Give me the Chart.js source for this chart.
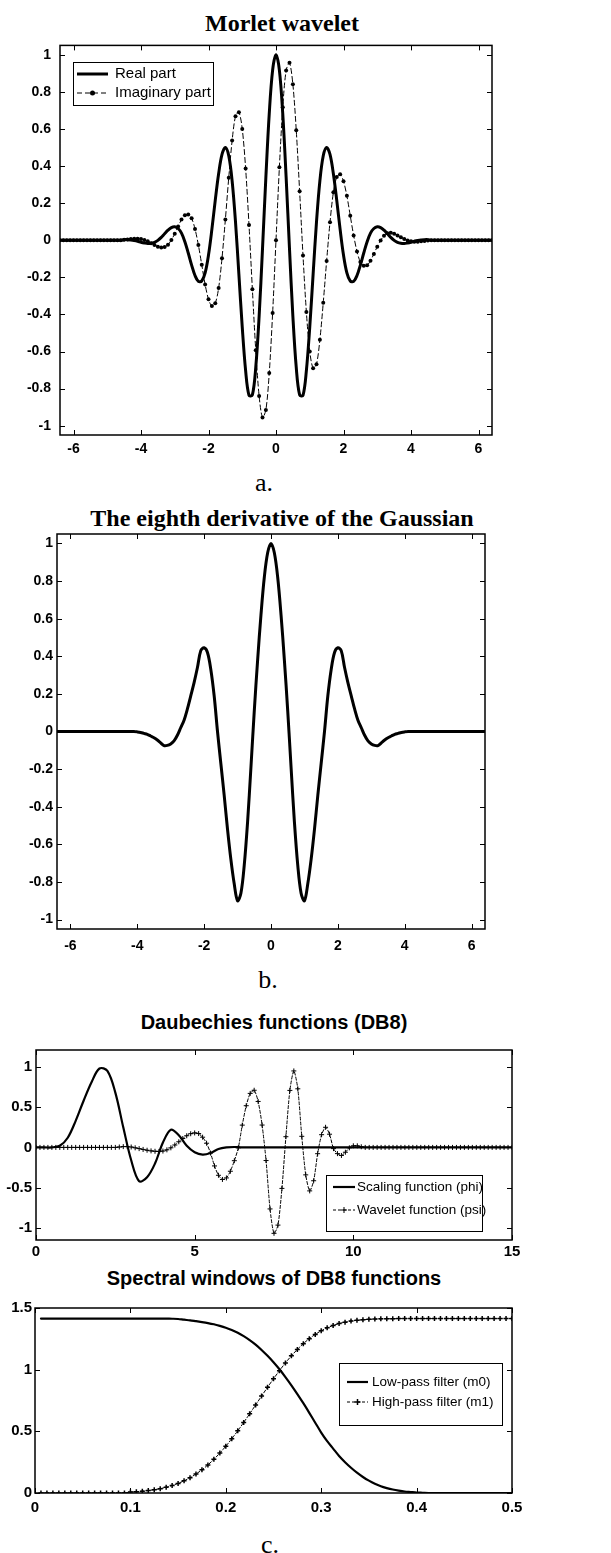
<!DOCTYPE html>
<html>
<head>
<meta charset="utf-8">
<script src="https://cdn.jsdelivr.net/npm/chart.js@4.4.1/dist/chart.umd.min.js"></script>
<style>
  html, body { margin: 0; padding: 0; background: #fff; }
  #page { position: relative; width: 611px; height: 1553px; overflow: hidden; }
  canvas { position: absolute; left: 0; }
  .lbl { position: absolute; transform: translate(-50%, -50%); white-space: nowrap; color: #000; line-height: 1; }
  .serif { font-family: "Liberation Serif", "Times New Roman", serif; }
  .sans { font-family: "Liberation Sans", Arial, sans-serif; font-weight: bold; }
</style>
</head>
<body>
<div id="page">
  <div class="lbl serif" style="left:282px; top:23px; font-size:24px; font-weight:bold;">Morlet wavelet</div>
  <canvas id="morlet" width="611" height="440" style="top:28px;"></canvas>
  <div class="lbl serif" style="left:264px; top:483px; font-size:26px;">a.</div>

  <div class="lbl serif" style="left:282px; top:518px; font-size:24px; font-weight:bold;">The eighth derivative of the Gaussian</div>
  <canvas id="gauss" width="611" height="440" style="top:520px;"></canvas>
  <div class="lbl serif" style="left:268px; top:980px; font-size:26px;">b.</div>

  <div class="lbl sans" style="left:274px; top:1022px; font-size:20px;">Daubechies functions (DB8)</div>
  <canvas id="db8" width="611" height="230" style="top:1035px;"></canvas>

  <div class="lbl sans" style="left:274px; top:1278px; font-size:20px;">Spectral windows of DB8 functions</div>
  <canvas id="spectral" width="611" height="225" style="top:1295px;"></canvas>
  <div class="lbl serif" style="left:270px; top:1545px; font-size:26px;">c.</div>
</div>

<script>
// --- a. Morlet wavelet / b. eighth derivative (shared t grid, step 0.1) ---
const tGrid = [
  -6.4,-6.3,-6.2,-6.1,-6,-5.9,-5.8,-5.7,-5.6,-5.5,
  -5.4,-5.3,-5.2,-5.1,-5,-4.9,-4.8,-4.7,-4.6,-4.5,
  -4.4,-4.3,-4.2,-4.1,-4,-3.9,-3.8,-3.7,-3.6,-3.5,
  -3.4,-3.3,-3.2,-3.1,-3,-2.9,-2.8,-2.7,-2.6,-2.5,
  -2.4,-2.3,-2.2,-2.1,-2,-1.9,-1.8,-1.7,-1.6,-1.5,
  -1.4,-1.3,-1.2,-1.1,-1,-0.9,-0.8,-0.7,-0.6,-0.5,
  -0.4,-0.3,-0.2,-0.1,0,0.1,0.2,0.3,0.4,0.5,
  0.6,0.7,0.8,0.9,1,1.1,1.2,1.3,1.4,1.5,
  1.6,1.7,1.8,1.9,2,2.1,2.2,2.3,2.4,2.5,
  2.6,2.7,2.8,2.9,3,3.1,3.2,3.3,3.4,3.5,
  3.6,3.7,3.8,3.9,4,4.1,4.2,4.3,4.4,4.5,
  4.6,4.7,4.8,4.9,5,5.1,5.2,5.3,5.4,5.5,
  5.6,5.7,5.8,5.9,6,6.1,6.2,6.3,6.4
];

const morletReal = [
  0,0,0,0,0,0,0,0,0,0,
  0,0,0,0,0,0,0,0,0,0.003,
  0.003,0.001,-0.002,-0.006,-0.011,-0.015,-0.018,-0.017,-0.012,-0.001,
  0.015,0.035,0.054,0.068,0.072,0.063,0.038,-0.008,-0.069,-0.134,
  -0.190,-0.222,-0.220,-0.176,-0.080,0.058,0.215,0.358,0.462,0.500,
  0.455,0.320,0.099,-0.183,-0.469,-0.703,-0.836,-0.834,-0.686,-0.410,
  -0.047,0.340,0.682,0.917,1.000,0.917,0.682,0.340,-0.047,-0.410,
  -0.686,-0.834,-0.836,-0.703,-0.469,-0.183,0.099,0.320,0.455,0.500,
  0.462,0.358,0.215,0.058,-0.080,-0.176,-0.220,-0.222,-0.190,-0.134,
  -0.069,-0.008,0.038,0.063,0.072,0.068,0.054,0.035,0.015,-0.001,
  -0.012,-0.017,-0.018,-0.015,-0.011,-0.006,-0.002,0.001,0.003,0.003,
  0,0,0,0,0,0,0,0,0,0,
  0,0,0,0,0,0,0,0,0
];

const morletImag = [
  0,0,0,0,0,0,0,0,0,0,
  0,0,0,0,0,0,0,0,0,0.002,
  0.004,0.006,0.008,0.008,0.006,0.001,-0.006,-0.016,-0.026,-0.035,
  -0.040,-0.037,-0.024,0.001,0.035,0.074,0.111,0.135,0.138,0.118,
  0.061,-0.026,-0.132,-0.239,-0.318,-0.355,-0.340,-0.258,-0.097,0.112,
  0.337,0.537,0.668,0.690,0.600,0.387,0.082,-0.264,-0.593,-0.840,
  -0.956,-0.915,-0.716,-0.393,0,0.393,0.716,0.915,0.956,0.840,
  0.593,0.264,-0.082,-0.387,-0.600,-0.690,-0.668,-0.537,-0.337,-0.112,
  0.097,0.258,0.340,0.355,0.318,0.239,0.132,0.026,-0.061,-0.118,
  -0.138,-0.135,-0.111,-0.074,-0.035,-0.001,0.024,0.037,0.040,0.035,
  0.026,0.016,0.006,-0.001,-0.006,-0.008,-0.008,-0.006,-0.004,-0.002,
  0,0,0,0,0,0,0,0,0,0,
  0,0,0,0,0,0,0,0,0
];

const gauss8 = [
  0,0,0,0,0,0,0,0,0,0,
  0,0,0,0,0,0,0,0,0,0,
  0,0,0,0,-0.002,-0.005,-0.01,-0.015,-0.024,-0.033,
  -0.045,-0.06,-0.075,-0.074,-0.066,-0.05,-0.02,0.02,0.06,0.12,
  0.19,0.26,0.34,0.43,0.445,0.42,0.33,0.19,0,-0.17,
  -0.34,-0.52,-0.68,-0.81,-0.90,-0.86,-0.71,-0.48,-0.19,0.11,
  0.38,0.62,0.82,0.95,1.0,0.95,0.82,0.62,0.38,0.11,
  -0.19,-0.48,-0.71,-0.86,-0.90,-0.81,-0.68,-0.52,-0.34,-0.17,
  0,0.19,0.33,0.42,0.445,0.43,0.34,0.26,0.19,0.12,
  0.06,0.02,-0.02,-0.05,-0.066,-0.074,-0.075,-0.06,-0.045,-0.033,
  -0.024,-0.015,-0.01,-0.005,-0.002,0,0,0,0,0,
  0,0,0,0,0,0,0,0,0,0,
  0,0,0,0,0,0,0,0,0
];

const tTicks = [-6, -4, -2, 0, 2, 4, 6];
const ampTicks = [-1, -0.8, -0.6, -0.4, -0.2, 0, 0.2, 0.4, 0.6, 0.8, 1];

// --- c. Daubechies DB8 ---
const phiX = [
  0,0.25,0.5,0.75,1,1.25,1.5,1.75,2,2.25,2.5,2.75,3,3.25,3.5,3.75,
  4,4.25,4.5,4.75,5,5.25,5.5,5.75,6,6.25,6.5,7,8,9,10,11,12,13,14,15
];
const phiY = [
  0,0,0,0.02,0.12,0.33,0.58,0.81,0.98,0.95,0.68,0.25,-0.16,-0.42,-0.37,-0.2,
  0.06,0.22,0.15,0.02,-0.06,-0.09,-0.07,-0.02,0,0.005,0,0,0,0,0,0,0,0,0,0
];

const psiX = [
  0,0.125,0.25,0.375,0.5,0.625,0.75,0.875,
  1,1.125,1.25,1.375,1.5,1.625,1.75,1.875,
  2,2.125,2.25,2.375,2.5,2.625,2.75,2.875,
  3,3.125,3.25,3.375,3.5,3.625,3.75,3.875,
  4,4.125,4.25,4.375,4.5,4.625,4.75,4.875,
  5,5.125,5.25,5.375,5.5,5.625,5.75,5.875,
  6,6.125,6.25,6.375,6.5,6.625,6.75,6.875,
  7,7.125,7.25,7.375,7.5,7.625,7.75,7.875,
  8,8.125,8.25,8.375,8.5,8.625,8.75,8.875,
  9,9.125,9.25,9.375,9.5,9.625,9.75,9.875,
  10,10.125,10.25,10.375,10.5,10.625,10.75,10.875,
  11,11.125,11.25,11.375,11.5,11.625,11.75,11.875,
  12,12.125,12.25,12.375,12.5,12.625,12.75,12.875,
  13,13.125,13.25,13.375,13.5,13.625,13.75,13.875,
  14,14.125,14.25,14.375,14.5,14.625,14.75,14.875,
  15
];
const psiY = [
  0,0,0,0,0,0,0,0,
  0,0,0,0,0,0,0,0,
  0,0,0,0,0,0.005,0.01,0.01,
  0.005,-0.005,-0.015,-0.025,-0.035,-0.043,-0.048,-0.05,
  -0.045,-0.03,-0.005,0.03,0.07,0.11,0.145,0.17,
  0.18,0.172,0.127,0.052,-0.07,-0.23,-0.346,-0.398,
  -0.379,-0.296,-0.165,-0.006,0.277,0.518,0.671,0.71,
  0.571,0.278,-0.163,-0.764,-1.067,-0.965,-0.509,0.133,
  0.708,0.95,0.728,0.138,-0.341,-0.54,-0.414,-0.078,
  0.158,0.25,0.164,-0.015,-0.077,-0.10,-0.06,-0.005,
  0.02,0.02,0.008,0,0,0,0,0,
  0,0,0,0,0,0,0,0,
  0,0,0,0,0,0,0,0,
  0,0,0,0,0,0,0,0,
  0,0,0,0,0,0,0,0,
  0
];
const dbXTicks = [0, 5, 10, 15];
const dbYTicks = [-1, -0.5, 0, 0.5, 1];

// --- c. spectral windows ---
const freq = [
  0.00625,0.0125,0.01875,0.025,0.03125,0.0375,0.04375,0.05,
  0.05625,0.0625,0.06875,0.075,0.08125,0.0875,0.09375,0.1,
  0.10625,0.1125,0.11875,0.125,0.13125,0.1375,0.14375,0.15,
  0.15625,0.1625,0.16875,0.175,0.18125,0.1875,0.19375,0.2,
  0.20625,0.2125,0.21875,0.225,0.23125,0.2375,0.24375,0.25,
  0.25625,0.2625,0.26875,0.275,0.28125,0.2875,0.29375,0.3,
  0.30625,0.3125,0.31875,0.325,0.33125,0.3375,0.34375,0.35,
  0.35625,0.3625,0.36875,0.375,0.38125,0.3875,0.39375,0.4,
  0.40625,0.4125,0.41875,0.425,0.43125,0.4375,0.44375,0.45,
  0.45625,0.4625,0.46875,0.475,0.48125,0.4875,0.49375,0.5
];
const lowPass = [
  1.414,1.414,1.414,1.414,1.414,1.414,1.414,1.414,
  1.414,1.414,1.414,1.414,1.414,1.414,1.414,1.414,
  1.414,1.414,1.414,1.414,1.414,1.414,1.413,1.411,
  1.405,1.400,1.393,1.386,1.378,1.368,1.355,1.340,
  1.322,1.300,1.272,1.240,1.203,1.160,1.112,1.060,
  1.003,0.940,0.873,0.802,0.728,0.650,0.570,0.490,
  0.420,0.360,0.300,0.250,0.205,0.165,0.130,0.100,
  0.075,0.055,0.040,0.028,0.019,0.012,0.008,0.004,
  0.002,0,0,0,0,0,0,0,
  0,0,0,0,0,0,0,0
];
const highPass = [
  0,0,0,0,0,0,0,0,
  0,0,0,0,0,0,0,0.008,
  0.010,0.015,0.020,0.027,0.035,0.047,0.061,0.078,
  0.099,0.124,0.154,0.188,0.228,0.273,0.324,0.379,
  0.440,0.504,0.572,0.642,0.714,0.786,0.857,0.926,
  0.992,1.055,1.112,1.164,1.211,1.251,1.286,1.315,
  1.339,1.358,1.374,1.385,1.394,1.400,1.405,1.408,
  1.410,1.412,1.413,1.413,1.414,1.414,1.414,1.414,
  1.414,1.414,1.414,1.414,1.414,1.414,1.414,1.414,
  1.414,1.414,1.414,1.414,1.414,1.414,1.414,1.414
];
const freqTicks = [0, 0.1, 0.2, 0.3, 0.4, 0.5];
const magTicks = [0, 0.5, 1, 1.5];

const fontAB = { family: '"Liberation Sans", Arial, sans-serif', size: 14, weight: 'bold' };
const fontCD = { family: '"Liberation Sans", Arial, sans-serif', size: 15, weight: 'bold' };

function pts(xs, ys) {
    return xs.map((x, i) => ({ x: x, y: ys[i] }));
}

function marker(ctx, style, x, y, r) {
    ctx.beginPath();
    if (style === 'circle') {
        ctx.arc(x, y, r, 0, Math.PI * 2);
        ctx.fill();
    } else {
        ctx.moveTo(x - r, y); ctx.lineTo(x + r, y);
        ctx.moveTo(x, y - r); ctx.lineTo(x, y + r);
        ctx.stroke();
    }
}

// matlab style box with inward ticks
const frame = {
    id: 'frame',
    afterDatasetsDraw(chart) {
        const { ctx, chartArea: a, scales: { x, y } } = chart;
        ctx.save();
        ctx.strokeStyle = '#000';
        ctx.setLineDash([]);
        ctx.lineWidth = 1.5;
        ctx.strokeRect(a.left, a.top, a.right - a.left, a.bottom - a.top);
        ctx.lineWidth = 1;
        ctx.beginPath();
        x.ticks.forEach(t => {
            const px = Math.round(x.getPixelForValue(t.value)) + 0.5;
            ctx.moveTo(px, a.bottom); ctx.lineTo(px, a.bottom - 5);
            ctx.moveTo(px, a.top); ctx.lineTo(px, a.top + 5);
        });
        y.ticks.forEach(t => {
            const py = Math.round(y.getPixelForValue(t.value)) + 0.5;
            ctx.moveTo(a.left, py); ctx.lineTo(a.left + 5, py);
            ctx.moveTo(a.right, py); ctx.lineTo(a.right - 5, py);
        });
        ctx.stroke();
        ctx.restore();
    }
};

const boxLegend = {
    id: 'boxLegend',
    afterDraw(chart, args, o) {
        const ctx = chart.ctx;
        ctx.save();
        ctx.fillStyle = '#fff';
        ctx.fillRect(o.x, o.y, o.w, o.h);
        ctx.strokeStyle = '#000';
        ctx.lineWidth = 1;
        ctx.setLineDash([]);
        ctx.strokeRect(o.x + 0.5, o.y + 0.5, o.w, o.h);
        ctx.font = o.font;
        ctx.textBaseline = 'middle';
        ctx.fillStyle = '#000';
        o.rows.forEach((ry, i) => {
            const ds = chart.data.datasets[i];
            ctx.lineWidth = ds.borderWidth;
            ctx.setLineDash(ds.borderDash || []);
            ctx.beginPath();
            ctx.moveTo(o.x1, ry);
            ctx.lineTo(o.x2, ry);
            ctx.stroke();
            ctx.setLineDash([]);
            ctx.lineWidth = ds.pointBorderWidth || 1;
            if (ds.pointRadius > 0) marker(ctx, ds.pointStyle, (o.x1 + o.x2) / 2, ry, ds.pointRadius + 0.5);
            ctx.fillText(ds.label, o.tx, ry);
        });
        ctx.restore();
    }
};

function axis(min, max, ticks, font, pad, fit, horizontal) {
    return {
        type: 'linear',
        min: min,
        max: max,
        grid: { display: false, drawTicks: false },
        border: { display: false },
        ticks: {
            color: '#000',
            font: font,
            padding: pad,
            autoSkip: false,
            maxRotation: 0,
            callback: v => String(v)
        },
        afterBuildTicks: s => { s.ticks = ticks.map(v => ({ value: v })); },
        afterFit: s => { if (horizontal) s.height = fit; else s.width = fit; }
    };
}

function makeChart(id, datasets, cfg) {
    return new Chart(document.getElementById(id), {
        type: 'line',
        data: { datasets: datasets },
        options: {
            responsive: false,
            animation: false,
            devicePixelRatio: 1,
            events: [],
            layout: { padding: cfg.padding },
            elements: { line: { borderCapStyle: 'round', borderJoinStyle: 'round' } },
            scales: { x: cfg.x, y: cfg.y },
            plugins: {
                legend: { display: false },
                tooltip: { enabled: false },
                boxLegend: cfg.legend
            }
        },
        plugins: cfg.legend ? [frame, boxLegend] : [frame]
    });
}

makeChart('morlet', [
    { label: 'Real part', data: pts(tGrid, morletReal), borderColor: '#000', borderWidth: 3,
      pointRadius: 0, tension: 0.35 },
    { label: 'Imaginary part', data: pts(tGrid, morletImag), borderColor: '#000', borderWidth: 1,
      borderDash: [5, 3], pointRadius: 2, pointStyle: 'circle', pointBackgroundColor: '#000',
      pointBorderWidth: 0, tension: 0.3 }
], {
    padding: { left: 0, right: 119, top: 12, bottom: 8 },
    x: axis(-6.4, 6.4, tTicks, fontAB, 6, 25, true),
    y: axis(-1.05, 1.05, ampTicks, fontAB, 9, 60, false),
    legend: { x: 73, y: 34, w: 140, h: 43, rows: [46, 65], x1: 77, x2: 108, tx: 115,
              font: '15px "Liberation Sans", Arial, sans-serif' }
});

makeChart('gauss', [
    { label: 'eighth derivative', data: pts(tGrid, gauss8), borderColor: '#000', borderWidth: 3,
      pointRadius: 0, tension: 0.35 }
], {
    padding: { left: 0, right: 126, top: 14, bottom: 6 },
    x: axis(-6.4, 6.4, tTicks, fontAB, 9, 25, true),
    y: axis(-1.05, 1.05, ampTicks, fontAB, 4, 57, false)
});

makeChart('db8', [
    { label: 'Scaling function (phi)', data: pts(phiX, phiY), borderColor: '#000', borderWidth: 2.2,
      pointRadius: 0, tension: 0.35 },
    { label: 'Wavelet function (psi)', data: pts(psiX, psiY), borderColor: '#000', borderWidth: 1,
      borderDash: [3, 2], pointRadius: 2.5, pointStyle: 'cross', pointBorderColor: '#000',
      pointBorderWidth: 1, tension: 0.25 }
], {
    padding: { left: 0, right: 99, top: 15, bottom: 3 },
    x: axis(0, 15, dbXTicks, fontCD, 3, 22, true),
    y: axis(-1.15, 1.21, dbYTicks, fontCD, 4, 36, false),
    legend: { x: 326, y: 140, w: 156, h: 56, rows: [152, 175], x1: 333, x2: 355, tx: 357,
              font: '13.5px "Liberation Sans", Arial, sans-serif' }
});

makeChart('spectral', [
    { label: 'Low-pass filter (m0)', data: pts(freq, lowPass), borderColor: '#000', borderWidth: 2.2,
      pointRadius: 0, tension: 0.3 },
    { label: 'High-pass filter (m1)', data: pts(freq, highPass), borderColor: '#000', borderWidth: 1,
      borderDash: [3, 2], pointRadius: 2.5, pointStyle: 'cross', pointBorderColor: '#000',
      pointBorderWidth: 1.5, tension: 0.3 }
], {
    padding: { left: 0, right: 99, top: 13, bottom: 3 },
    x: axis(0, 0.5, freqTicks, fontCD, 6, 24, true),
    y: axis(0, 1.5, magTicks, fontCD, 3, 35, false),
    legend: { x: 339, y: 68, w: 163, h: 62, rows: [87, 107], x1: 347, x2: 368, tx: 372,
              font: '13.5px "Liberation Sans", Arial, sans-serif' }
});
</script>
</body>
</html>
